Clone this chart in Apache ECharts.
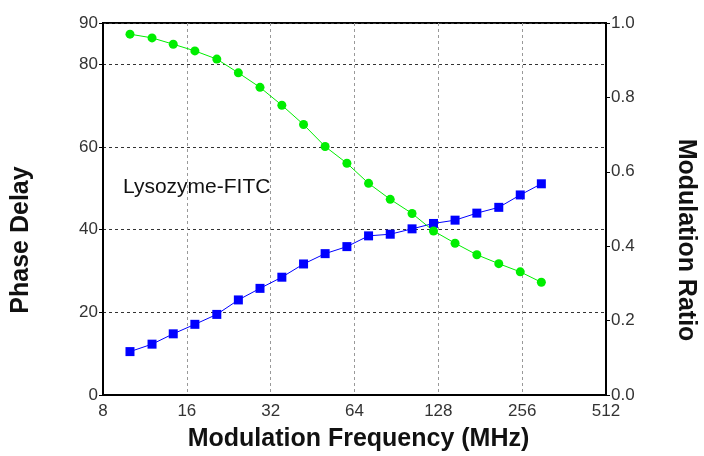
<!DOCTYPE html>
<html><head><meta charset="utf-8">
<script src="https://cdn.jsdelivr.net/npm/echarts@6/dist/echarts.min.js"></script>
<style>html,body{margin:0;padding:0;background:#fff}#c{width:704px;height:456px}</style>
</head><body><div id="c"></div>
<script>
var frequencies = [10, 12.0, 14.3, 17.1, 20.5, 24.5, 29.3, 35.1, 42.0, 50.2, 60.1, 71.9, 86.0, 103, 123, 147, 176, 211, 252, 300];
var phaseDelay = [10.5, 12.3, 14.8, 17.1, 19.5, 23.0, 25.8, 28.5, 31.7, 34.2, 35.9, 38.5, 38.9, 40.2, 41.5, 42.3, 44.0, 45.4, 48.4, 51.1];
var modRatio = [0.970, 0.960, 0.943, 0.925, 0.903, 0.866, 0.827, 0.779, 0.727, 0.668, 0.623, 0.569, 0.526, 0.488, 0.441, 0.408, 0.377, 0.353, 0.331, 0.303];
var annotation = 'Lysozyme-FITC';
var xTitle = 'Modulation Frequency (MHz)';
var leftTitle = 'Phase Delay';
var rightTitle = 'Modulation Ratio';

var chart = echarts.init(document.getElementById('c'), null, {renderer: 'canvas'});
var tickFont = {fontFamily: '"Liberation Sans Narrow", "Liberation Sans"', fontSize: 17, color: '#333'};
var titleFontStr = 'bold 25px "Liberation Sans"';
chart.setOption({
  animation: false,
  grid: {left: 103, right: 98, top: 23, bottom: 61, show: true, borderColor: '#000', borderWidth: 2, backgroundColor: 'transparent', containLabel: false, outerBoundsMode: 'none'},
  xAxis: {
    type: 'log', logBase: 2, min: 8, max: 512,
    name: xTitle, nameLocation: 'middle', nameGap: 32,
    nameTextStyle: {fontFamily: 'Liberation Sans', fontSize: 25, fontWeight: 'bold', color: '#111', padding: [0, 0, 0, 8]},
    axisLine: {lineStyle: {color: '#000', width: 2}},
    axisTick: {show: false},
    axisLabel: Object.assign({margin: 8}, tickFont),
    splitLine: {show: true, lineStyle: {color: '#999', type: [3, 3], width: 1}},
    minorTick: {show: false}
  },
  yAxis: [{
    type: 'value', min: 0, max: 90, interval: 20, position: 'left',
    axisLine: {show: true, lineStyle: {color: '#000', width: 2}},
    axisTick: {show: true, length: 4, lineStyle: {color: '#000'}},
    axisLabel: Object.assign({margin: 5}, tickFont),
    splitLine: {show: true, lineStyle: {color: '#333', type: [3, 3], width: 1}}
  }, {
    type: 'value', min: 0, max: 1, interval: 0.2, position: 'right',
    axisLine: {show: true, lineStyle: {color: '#000', width: 2}},
    axisTick: {show: true, length: 4, lineStyle: {color: '#000'}},
    axisLabel: Object.assign({margin: 5, formatter: function (v) { return v.toFixed(1); }}, tickFont),
    splitLine: {show: false}
  }],
  graphic: [
    {type: 'text', left: 123, top: 177, style: {text: annotation, font: '21px "Liberation Sans"', fill: '#111'}},
    {type: 'text', x: 21, y: 240, rotation: Math.PI / 2, style: {text: leftTitle, font: titleFontStr, fill: '#111', align: 'center', verticalAlign: 'middle'}},
    {type: 'text', x: 686, y: 240, rotation: -Math.PI / 2, style: {text: rightTitle, font: titleFontStr, fill: '#111', align: 'center', verticalAlign: 'middle'}}
  ],
  series: [{
    type: 'line', name: 'Phase', yAxisIndex: 0,
    data: frequencies.map(function (f, i) { return [f, phaseDelay[i]]; }),
    symbol: 'rect', symbolSize: 9, color: '#0000ff',
    lineStyle: {color: '#0000ff', width: 1}, itemStyle: {color: '#0000ff'}
  }, {
    type: 'line', name: 'Modulation', yAxisIndex: 1,
    data: frequencies.map(function (f, i) { return [f, modRatio[i]]; }),
    symbol: 'circle', symbolSize: 9, color: '#00ee00',
    lineStyle: {color: '#00ee00', width: 1}, itemStyle: {color: '#00ee00'}
  }]
});
</script></body></html>
